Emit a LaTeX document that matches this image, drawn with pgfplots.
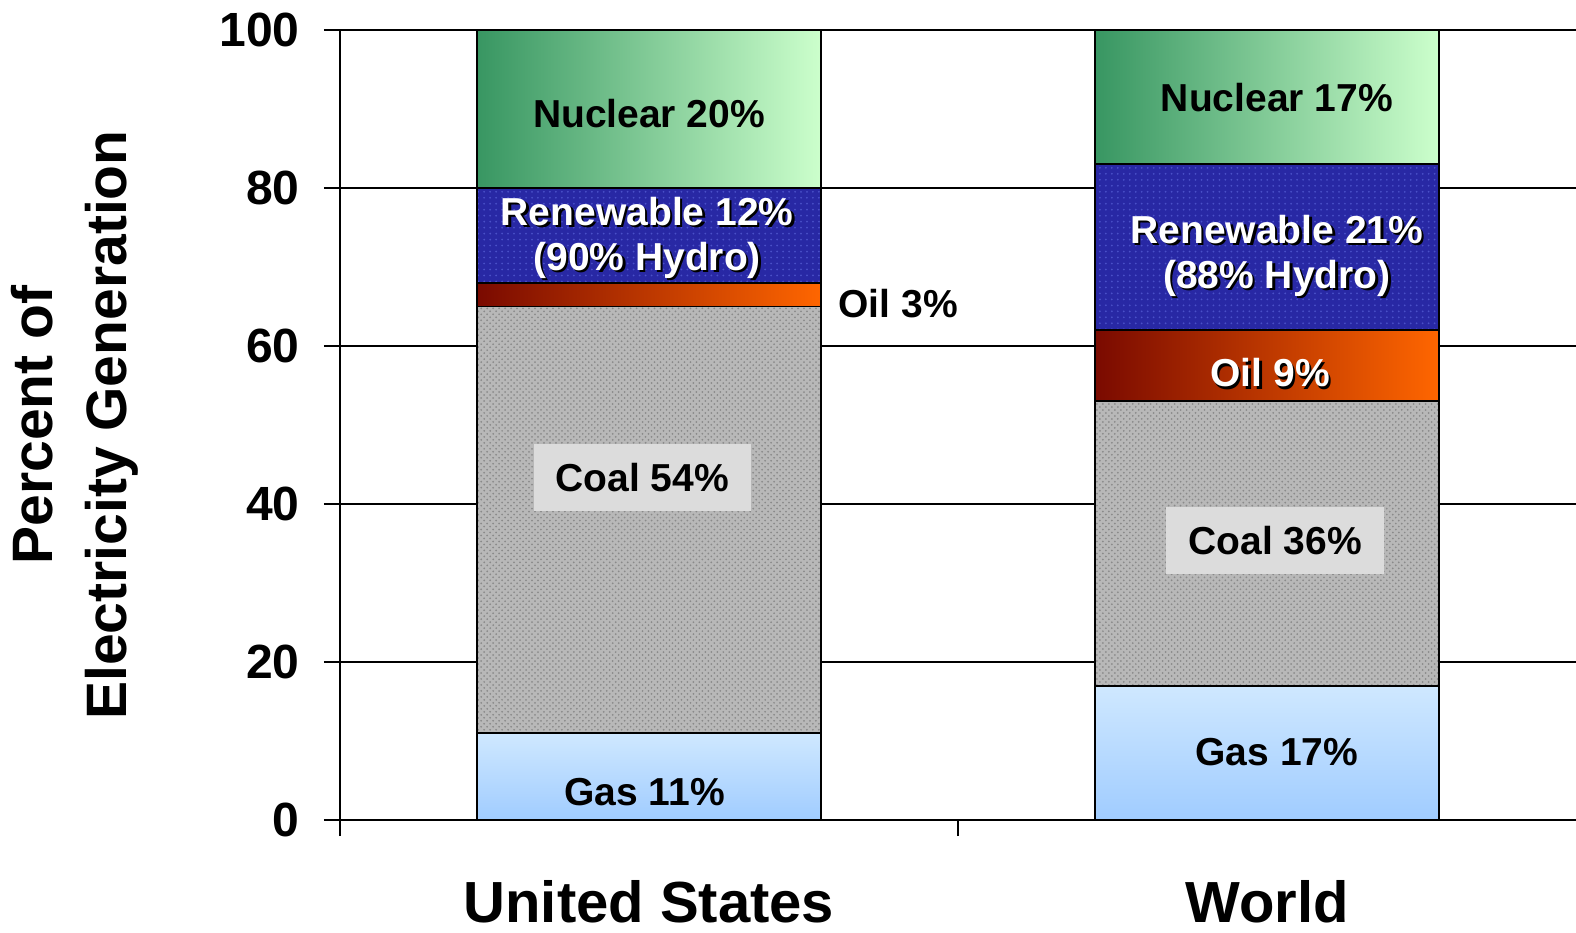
\documentclass[border=0pt]{standalone}
\usepackage{fontspec}
\setmainfont{Liberation Sans}
\usepackage{pgfplots}
\pgfplotsset{compat=1.18}
\usetikzlibrary{patterns}
\definecolor{nucL}{HTML}{389662}
\definecolor{nucR}{HTML}{CCFFCC}
\definecolor{renew}{HTML}{2828A4}
\definecolor{renewdot}{HTML}{4A50C8}
\definecolor{oilL}{HTML}{7A0A00}
\definecolor{oilR}{HTML}{FF6600}
\definecolor{coal}{HTML}{B8B8B8}
\definecolor{coaldot}{HTML}{8A8A8A}
\definecolor{gasB}{HTML}{A0CCFF}
\definecolor{gasT}{HTML}{CFE8FF}
\definecolor{coalbox}{HTML}{DCDCDC}
\newcommand\lab{\fontsize{19.5bp}{22.5bp}\selectfont\bfseries}
\pgfplotsset{
  common/.style={
    scale only axis, width=618bp, height=395bp,
    xmin=0, xmax=2, ymin=0, ymax=100,
    at={(0,0)}, anchor=south west,
    ybar stacked, bar width=172bp, bar shift=0pt,
    reverse stacked plots=false,
    clip=false,
  },
  gas/.style={draw=black, line width=0.9bp, bottom color=gasB, top color=gasT},
  coalst/.style={draw=black, line width=0.9bp, fill=coal, postaction={pattern=crosshatch dots, pattern color=coaldot}},
  oil/.style={draw=black, line width=0.9bp, left color=oilL, right color=oilR},
  ren/.style={draw=black, line width=0.9bp, fill=renew, postaction={pattern=dots, pattern color=renewdot}},
  nuc/.style={draw=black, line width=0.9bp, left color=nucL, right color=nucR},
}
\begin{document}
\begin{tikzpicture}[font=\bfseries]
% ---- axis 1: frame, grid, ticks, labels, United States bar
\begin{axis}[name=ax, common,
  axis x line*=bottom, axis y line*=left,
  axis line style={line width=0.9bp, black, -},
  ytick={0,20,...,100},
  xtick={0,1}, xticklabels={},
  extra x ticks={0.5,1.5},
  extra x tick labels={United States,World},
  extra x tick style={tick style={draw=none},
    xticklabel style={font=\fontsize{29bp}{34bp}\selectfont\bfseries, anchor=base, inner sep=0pt, yshift=-43bp}},
  tick align=outside, major tick length=8bp,
  tick style={line width=0.9bp, black},
  ymajorgrids, grid style={line width=0.9bp, black},
  yticklabel style={font=\fontsize{24bp}{28bp}\selectfont\bfseries, anchor=east, inner sep=0pt, xshift=-12bp},
  /pgf/number format/assume math mode=true,
  ylabel={Percent of\\Electricity Generation},
  ylabel style={align=center, font=\fontsize{28.5bp}{37bp}\selectfont\bfseries,
    at={(axis description cs:-0.2144,0.5)}, anchor=center},
]
\addplot[gas]    coordinates {(0.5,11)};
\addplot[coalst] coordinates {(0.5,54)};
\addplot[oil]    coordinates {(0.5,3)};
\addplot[ren]    coordinates {(0.5,12)};
\addplot[nuc]    coordinates {(0.5,20)};
\end{axis}
% ---- axis 2: World bar
\begin{axis}[common, hide axis]
\addplot[gas]    coordinates {(1.5,17)};
\addplot[coalst] coordinates {(1.5,36)};
\addplot[oil]    coordinates {(1.5,9)};
\addplot[ren]    coordinates {(1.5,21)};
\addplot[nuc]    coordinates {(1.5,17)};
\end{axis}
% ---- axis 3: segment labels
\begin{axis}[common, hide axis]
\node[font=\lab] at (axis cs:0.5,89.4) {Nuclear 20\%};
\node[font=\lab, align=center, text=black, xshift=1.2bp, yshift=-1.2bp] at (axis cs:0.497,73.7) {Renewable 12\%\\(90\% Hydro)};
\node[font=\lab, align=center, text=white] at (axis cs:0.497,73.7) {Renewable 12\%\\(90\% Hydro)};
\node[font=\lab, anchor=west, inner sep=0pt] at (axis cs:0.806,65.4) {Oil 3\%};
\node[font=\lab, fill=coalbox, inner xsep=11bp, minimum height=33.5bp] at (axis cs:0.489,43.3) {Coal 54\%};
\node[font=\lab] at (axis cs:0.493,3.5) {Gas 11\%};
\node[font=\lab] at (axis cs:1.516,91.4) {Nuclear 17\%};
\node[font=\lab, align=center, text=black, xshift=1.2bp, yshift=-1.2bp] at (axis cs:1.516,71.4) {Renewable 21\%\\(88\% Hydro)};
\node[font=\lab, align=center, text=white] at (axis cs:1.516,71.4) {Renewable 21\%\\(88\% Hydro)};
\node[font=\lab, text=black, xshift=1.2bp, yshift=-1.2bp] at (axis cs:1.505,56.6) {Oil 9\%};
\node[font=\lab, text=white] at (axis cs:1.505,56.6) {Oil 9\%};
\node[font=\lab, fill=coalbox, inner xsep=11bp, minimum height=33.5bp] at (axis cs:1.513,35.4) {Coal 36\%};
\node[font=\lab] at (axis cs:1.516,8.6) {Gas 17\%};
\end{axis}
\pgfresetboundingbox
\useasboundingbox ([xshift=-170bp,yshift=-56.5bp]ax.south west) rectangle ([yshift=15bp]ax.north east);
\end{tikzpicture}
\end{document}
